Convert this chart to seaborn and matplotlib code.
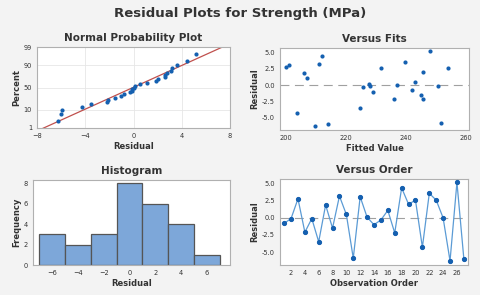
import matplotlib
matplotlib.use('Agg')
import matplotlib.pyplot as plt
import seaborn as sns
import pandas as pd
import numpy as np
from statistics import NormalDist

# residuos, en orden de observacion
orden = list(range(1, 28))
residuos = [-0.8, -0.1, 2.8, -2.1, -0.1, -3.5, 1.9, -1.5, 3.2, 0.5,
            -5.9, 3.1, 0.1, -1.0, -0.3, 1.1, -2.2, 4.4, 2.0, 2.6,
            -4.3, 3.6, 2.6, 0.0, -6.3, 5.2, -6.0]
ajustados = [242, 228, 200, 236, 250.5, 224.5, 206, 245, 211, 243,
             251.5, 201, 227.5, 229, 225.5, 207, 245.8, 212, 245.5, 231.5,
             203.5, 239.5, 254, 237, 209.5, 248, 214]

pct_ticks = [1, 10, 50, 90, 99]
hist_bins = [-7, -5, -3, -1, 1, 3, 5, 7]

df = pd.DataFrame({'orden': orden, 'residuo': residuos, 'ajustado': ajustados})

sns.set_style('white')
plt.rcParams['font.family'] = ['DejaVu Sans']

azul = '#1560b0'
gris_fondo = '#f3f3f3'

fig = plt.figure(figsize=(4.8, 2.95), dpi=100, facecolor=gris_fondo)
W, H = 480, 295

def ejes(x0, y0, x1, y1):
    return fig.add_axes([x0 / W, 1 - y1 / H, (x1 - x0) / W, (y1 - y0) / H])

def estilo(ax, titulo, xlab, ylab):
    ax.set_facecolor('white')
    for s in ax.spines.values():
        s.set_color('#b0b0b0')
        s.set_linewidth(0.8)
    ax.set_title(titulo, fontsize=7.5, fontweight='bold', color='#333333', pad=4)
    ax.set_xlabel(xlab, fontsize=6, fontweight='bold', color='#333333', labelpad=2)
    ax.set_ylabel(ylab, fontsize=6, fontweight='bold', color='#333333', labelpad=2)
    ax.tick_params(labelsize=4.8, length=2, pad=1.5, colors='#333333')

fig.text(0.5, 0.955, 'Residual Plots for Strength (MPa)', ha='center', va='center',
         fontsize=9.5, fontweight='bold', color='#333333')

# grafico de probabilidad normal
ax1 = ejes(37, 47, 230, 128)
nd = NormalDist()
n = len(residuos)
ordenados = np.sort(residuos)
prob = [(i + 1 - 0.3) / (n + 0.4) for i in range(n)]
z = [nd.inv_cdf(p) for p in prob]
media = float(np.mean(residuos))
desv = float(np.std(residuos, ddof=1))
zlim = (nd.inv_cdf(0.01), nd.inv_cdf(0.99))
xl = np.array([-8, 8])
ax1.plot(xl, (xl - media) / desv, color='#c0504d', lw=0.9, zorder=2)
sns.scatterplot(x=ordenados, y=z, ax=ax1, color=azul, s=9, edgecolor=azul, linewidth=0, zorder=3)
ax1.set_xlim(-8, 8)
ax1.set_ylim(zlim)
ax1.set_xticks([-8, -4, 0, 4, 8])
ax1.set_yticks([nd.inv_cdf(p / 100) for p in pct_ticks])
ax1.set_yticklabels([str(p) for p in pct_ticks])
ax1.grid(True, color='#e6e6e6', lw=0.6)
estilo(ax1, 'Normal Probability Plot', 'Residual', 'Percent')

# residuos vs ajustados
ax2 = ejes(280, 48, 469, 130)
ax2.axhline(0, color='#a0a0a0', lw=0.8, dashes=(8, 5), zorder=1)
sns.scatterplot(data=df, x='ajustado', y='residuo', ax=ax2, color=azul, s=9,
                edgecolor=azul, linewidth=0, zorder=3)
ax2.set_xlim(198, 261)
ax2.set_ylim(-6.9, 5.7)
ax2.set_xticks([200, 220, 240, 260])
ax2.set_yticks([-5, -2.5, 0, 2.5, 5])
ax2.set_yticklabels(['-5.0', '-2.5', '0.0', '2.5', '5.0'])
estilo(ax2, 'Versus Fits', 'Fitted Value', 'Residual')

# histograma
ax3 = ejes(33, 180, 230, 265)
sns.histplot(x=residuos, bins=hist_bins, ax=ax3, color='#7da7d9', alpha=1,
             edgecolor='#555555', linewidth=0.9)
ax3.set_xlim(-7.5, 7.8)
ax3.set_ylim(0, 8.3)
ax3.set_xticks([-6, -4, -2, 0, 2, 4, 6])
ax3.set_yticks([0, 2, 4, 6, 8])
estilo(ax3, 'Histogram', 'Residual', 'Frequency')

# residuos vs orden
ax4 = ejes(280, 179, 468, 265)
ax4.axhline(0, color='#a0a0a0', lw=0.8, dashes=(8, 5), zorder=1)
sns.lineplot(data=df, x='orden', y='residuo', ax=ax4, color='#5b9bd5', lw=0.9,
             marker='o', markersize=3, markerfacecolor=azul, markeredgecolor=azul, zorder=3)
ax4.set_xlim(0.4, 27.6)
ax4.set_ylim(-6.9, 5.7)
ax4.set_xticks(list(range(2, 27, 2)))
ax4.set_yticks([-5, -2.5, 0, 2.5, 5])
ax4.set_yticklabels(['-5.0', '-2.5', '0.0', '2.5', '5.0'])
estilo(ax4, 'Versus Order', 'Observation Order', 'Residual')

fig.savefig('out.png', dpi=100, facecolor=gris_fondo)
